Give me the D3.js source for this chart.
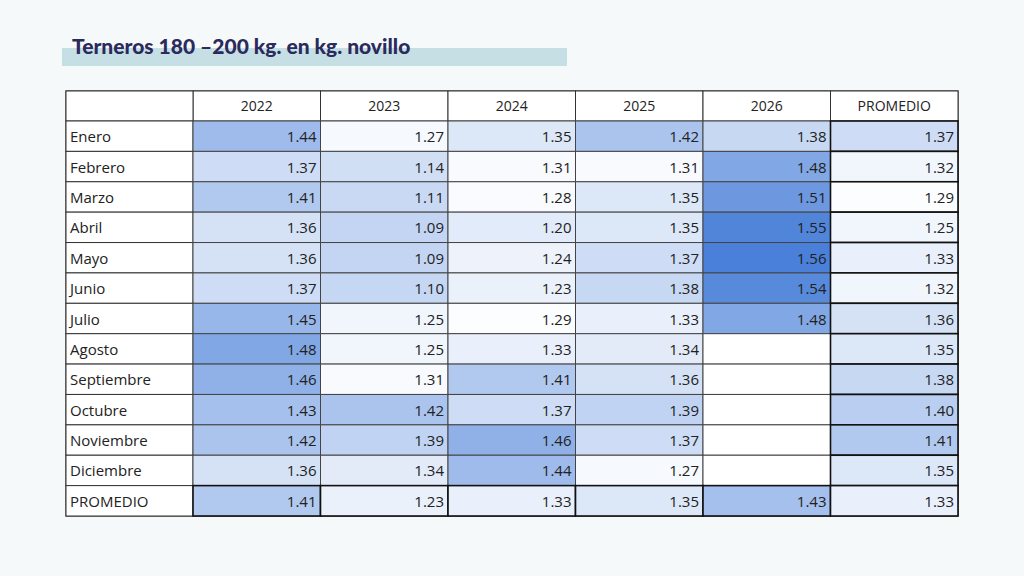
<!DOCTYPE html>
<html>
<head>
<script src="https://d3js.org/d3.v7.min.js"></script>
<style>
  body { margin: 0; background: #f6f9fa; }
  text { font-family: "Open Sans", sans-serif; fill: #222; }
</style>
</head>
<body>
<svg width="1024" height="576"></svg>
<script>
const months = ["Enero","Febrero","Marzo","Abril","Mayo","Junio","Julio","Agosto","Septiembre","Octubre","Noviembre","Diciembre","PROMEDIO"];
const columns = ["2022","2023","2024","2025","2026","PROMEDIO"];
const v2022 = [1.44,1.37,1.41,1.36,1.36,1.37,1.45,1.48,1.46,1.43,1.42,1.36,1.41];
const v2023 = [1.27,1.14,1.11,1.09,1.09,1.10,1.25,1.25,1.31,1.42,1.39,1.34,1.23];
const v2024 = [1.35,1.31,1.28,1.20,1.24,1.23,1.29,1.33,1.41,1.37,1.46,1.44,1.33];
const v2025 = [1.42,1.31,1.35,1.35,1.37,1.38,1.33,1.34,1.36,1.39,1.37,1.27,1.35];
const v2026 = [1.38,1.48,1.51,1.55,1.56,1.54,1.48,null,null,null,null,null,1.43];
const vProm = [1.37,1.32,1.29,1.25,1.33,1.32,1.36,1.35,1.38,1.40,1.41,1.35,1.33];
const series = [v2022, v2023, v2024, v2025, v2026, vProm];

const svg = d3.select("svg");

// title with highlight bar
svg.append("rect").attr("x", 62).attr("y", 48).attr("width", 505).attr("height", 18).attr("fill", "#c6dfe5");
svg.append("text").attr("x", 72).attr("y", 54)
  .style("font-family", "Lato, sans-serif").style("font-weight", 900).style("font-size", "21px")
  .style("fill", "#2b2a5c").text("Terneros 180 \u2013200 kg. en kg. novillo");

const tLeft = 66, firstW = 127, tRight = 958, tTop = 91, headH = 30, tBottom = 516;
const x = d3.scaleBand().domain(columns).range([tLeft + firstW, tRight]);
const y = d3.scaleBand().domain(months).range([tTop + headH, tBottom]);

const hi = d3.scaleLinear().domain([1.30, 1.56]).range(["#ffffff", "#4a80d9"]).clamp(true);
const lo = d3.scaleLinear().domain([1.30, 1.09]).range(["#ffffff", "#c3d5f2"]).clamp(true);
const color = v => v == null ? "#ffffff" : (v >= 1.30 ? hi(v) : lo(v));

const g = svg.append("g");
g.append("rect").attr("x", tLeft).attr("y", tTop).attr("width", tRight - tLeft).attr("height", tBottom - tTop)
  .attr("fill", "#fff").attr("stroke", "#333").attr("stroke-width", 1.2);

// header
columns.forEach(c => {
  g.append("rect").attr("x", x(c)).attr("y", tTop).attr("width", x.bandwidth()).attr("height", headH)
    .attr("fill", "#fff").attr("stroke", "#333").attr("stroke-width", 1);
  g.append("text").attr("x", x(c) + x.bandwidth() / 2).attr("y", tTop + headH / 2 + 5)
    .attr("text-anchor", "middle").style("font-size", "14px").text(c);
});
g.append("rect").attr("x", tLeft).attr("y", tTop).attr("width", firstW).attr("height", headH)
  .attr("fill", "#fff").attr("stroke", "#333");

months.forEach((m, i) => {
  g.append("rect").attr("x", tLeft).attr("y", y(m)).attr("width", firstW).attr("height", y.bandwidth())
    .attr("fill", "#fff").attr("stroke", "#333");
  g.append("text").attr("x", tLeft + 4).attr("y", y(m) + y.bandwidth() / 2 + 6)
    .style("font-size", "15px").text(m);
  columns.forEach((c, j) => {
    const v = series[j][i];
    const isProm = c === "PROMEDIO" || m === "PROMEDIO";
    g.append("rect").attr("x", x(c)).attr("y", y(m)).attr("width", x.bandwidth()).attr("height", y.bandwidth())
      .attr("fill", color(v)).attr("stroke", isProm ? "#111" : "#444").attr("stroke-width", isProm ? 1.6 : 1);
    if (v != null) {
      g.append("text").attr("x", x(c) + x.bandwidth() - 4).attr("y", y(m) + y.bandwidth() / 2 + 6)
        .attr("text-anchor", "end").style("font-size", "15px").text(v.toFixed(2));
    }
  });
});
</script>
</body>
</html>
